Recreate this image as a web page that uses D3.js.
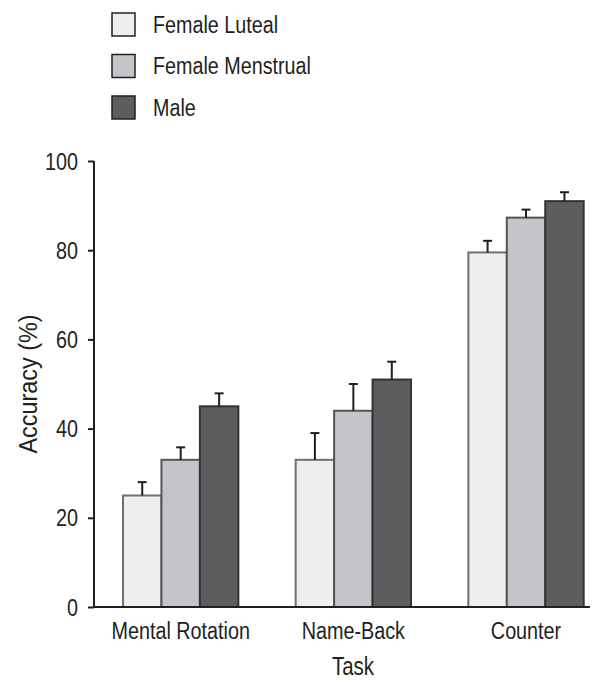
<!DOCTYPE html>
<html>
<head>
<meta charset="utf-8">
<script src="https://cdn.jsdelivr.net/npm/d3@7/dist/d3.min.js"></script>
<style>
  html, body { margin: 0; padding: 0; background: #fff; }
  svg text { font-family: "Liberation Sans", Arial, Helvetica, sans-serif; fill: #231f20; }
</style>
</head>
<body>
<svg id="chart" width="610" height="681"></svg>
<script>
// Accuracy by task and group (mean, upper error)
const tasks = ["Mental Rotation", "Name-Back", "Counter"];
const groups = ["Female Luteal", "Female Menstrual", "Male"];
const femaleLuteal    = [25, 33, 79.5];
const femaleMenstrual = [33, 44, 87.3];
const male            = [45, 51, 91];
const errLuteal    = [3, 6, 2.6];
const errMenstrual = [2.8, 6, 1.8];
const errMale      = [2.9, 4, 2];
const yTicks = [0, 20, 40, 60, 80, 100];

const values = [femaleLuteal, femaleMenstrual, male];
const errors = [errLuteal, errMenstrual, errMale];
const fills = ["#eeeeee", "#c4c5c9", "#5d5d5f"];
const strokes = ["#6f6f6f", "#555557", "#333335"];

const svg = d3.select("#chart");
const plotL = 94, plotR = 590, plotT = 161, plotB = 607;

// condensed lettering: move x/y into a transform and narrow horizontally
function squeeze(sel, sx) {
  sel.each(function () {
    const t = d3.select(this);
    const x = +t.attr("x") || 0, yy = +t.attr("y") || 0;
    const prev = t.attr("transform") || "";
    t.attr("x", 0).attr("y", 0)
     .attr("transform", `${prev} translate(${x},${yy}) scale(${sx},1)`);
  });
}

const y = d3.scaleLinear().domain([0, 100]).range([plotB, plotT]);
const x0 = d3.scaleBand().domain(tasks).range([plotL, 612.7]).paddingInner(0.332).paddingOuter(0.168);
const x1 = d3.scaleBand().domain(groups).range([0, x0.bandwidth()]);

// bars
const rows = [];
tasks.forEach((t, i) => groups.forEach((g, j) => rows.push({ task: t, group: j, value: values[j][i], err: errors[j][i] })));

const bars = svg.append("g");
bars.selectAll("rect").data(rows).join("rect")
  .attr("x", d => x0(d.task) + x1(groups[d.group]))
  .attr("y", d => y(d.value))
  .attr("width", x1.bandwidth())
  .attr("height", d => y(0) - y(d.value))
  .attr("fill", d => fills[d.group])
  .attr("stroke", d => strokes[d.group])
  .attr("stroke-width", 2);

// upper error bars
const eb = svg.append("g").attr("stroke", "#231f20").attr("stroke-width", 2);
rows.forEach(d => {
  const cx = x0(d.task) + x1(groups[d.group]) + x1.bandwidth() / 2;
  eb.append("line").attr("x1", cx).attr("x2", cx).attr("y1", y(d.value)).attr("y2", y(d.value + d.err));
  eb.append("line").attr("x1", cx - 4.5).attr("x2", cx + 4.5).attr("y1", y(d.value + d.err)).attr("y2", y(d.value + d.err));
});

// y axis
const yAxis = svg.append("g").attr("transform", `translate(${plotL},0)`)
  .call(d3.axisLeft(y).tickValues(yTicks).tickSize(6).tickPadding(10));
yAxis.select(".domain").attr("d", `M0,${plotT}V${plotB}`).attr("stroke", "#231f20").attr("stroke-width", 2);
yAxis.selectAll(".tick line").attr("stroke", "#231f20").attr("stroke-width", 2);
yAxis.selectAll(".tick text").attr("font-size", 23).attr("fill", "#231f20").attr("dy", "0.35em");

// x axis
const xAxis = svg.append("g").attr("transform", `translate(0,${plotB})`)
  .call(d3.axisBottom(x0).tickSize(0).tickPadding(16));
xAxis.select(".domain").attr("d", `M${plotL - 1},0H${plotR}`).attr("stroke", "#231f20").attr("stroke-width", 2);
xAxis.selectAll(".tick text").attr("font-size", 23).attr("fill", "#231f20");
svg.selectAll(".tick text").attr("font-family", null);
squeeze(yAxis.selectAll(".tick text"), 0.86);
squeeze(xAxis.selectAll(".tick text"), 0.86);

// axis titles
svg.append("text").attr("transform", `translate(37,${(plotT + plotB) / 2}) rotate(-90) scale(0.9,1)`)
  .attr("text-anchor", "middle").attr("font-size", 26).text("Accuracy (%)");
const taskTitle = svg.append("text").attr("x", 353).attr("y", 675)
  .attr("text-anchor", "middle").attr("font-size", 25).text("Task");
squeeze(taskTitle, 0.82);

// legend
const legend = svg.append("g");
groups.forEach((g, j) => {
  const gy = 13 + j * 41.5;
  legend.append("rect").attr("x", 112).attr("y", gy).attr("width", 23).attr("height", 23)
    .attr("fill", fills[j]).attr("stroke", "#231f20").attr("stroke-width", 1.5);
  const lt = legend.append("text").attr("x", 153).attr("y", gy + 19.5).attr("font-size", 23.5).text(g);
  squeeze(lt, 0.84);
});
</script>
</body>
</html>
